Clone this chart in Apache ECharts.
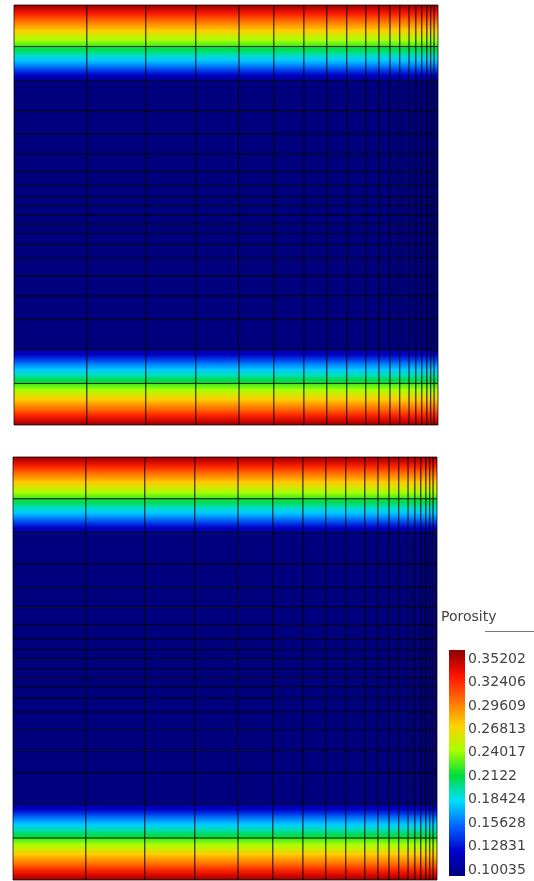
<!DOCTYPE html>
<html>
<head>
<meta charset="utf-8">
<script src="https://cdn.jsdelivr.net/npm/echarts@6/dist/echarts.min.js"></script>
<style>
  html, body { margin: 0; padding: 0; background: #ffffff; }
  #chart { width: 534px; height: 881px; }
</style>
</head>
<body>
<div id="chart"></div>
<script>
// Mesh column edges across the section (% of section width), refined toward the right side
const columnEdges = [0, 17.2, 31.1, 42.9, 53.1, 61.3, 68.4, 73.8, 78.5, 83.0, 86.1,
                     88.7, 91.0, 93.2, 94.8, 96.2, 97.4, 98.3, 99.1, 100];

// Mesh row edges through the layer thickness (% of thickness, 0 = top)
const rowEdges = [0, 9.9, 18.0, 25.3, 30.7, 35.5, 39.7, 43.0, 45.6, 47.8, 50.0,
                  52.2, 54.4, 57.0, 60.3, 64.5, 69.3, 74.7, 82.0, 90.1, 100];

// Porosity profile through the thickness (depth in % of thickness)
const profileDepth = [0, 1.2, 2.4, 3.6, 4.8, 6.0, 7.1, 8.3, 9.5, 10.7, 11.9, 13.1, 14.3, 15.5, 16.7, 17.9, 19.0,
                      81.0, 82.1, 83.3, 84.5, 85.7, 86.9, 88.1, 89.3, 90.5, 91.7, 92.9, 94.0, 95.2, 96.4, 97.6, 98.8, 100];
const profilePorosity = [0.352, 0.335, 0.318, 0.300, 0.285, 0.270, 0.255, 0.240, 0.225, 0.210, 0.195, 0.180, 0.165, 0.145, 0.125, 0.108, 0.1004,
                         0.1004, 0.108, 0.125, 0.145, 0.165, 0.180, 0.195, 0.210, 0.225, 0.240, 0.255, 0.270, 0.285, 0.300, 0.318, 0.335, 0.352];

// Colour legend
const porosityMin = 0.10035;
const porosityMax = 0.35202;
const legendTicks = ['0.10035', '0.12831', '0.15628', '0.18424', '0.2122',
                     '0.24017', '0.26813', '0.29609', '0.32406', '0.35202'];

// Rainbow colour map, low to high
const colormap = ['#00007f', '#0000cc', '#0064ff', '#00e0ff', '#00dc3c',
                  '#a8ff00', '#ffd000', '#ff7000', '#ff1000', '#8c0000'];

function hexToRgb(h) {
  return [parseInt(h.slice(1, 3), 16), parseInt(h.slice(3, 5), 16), parseInt(h.slice(5, 7), 16)];
}
const colormapRgb = colormap.map(hexToRgb);

function colorOf(v) {
  let t = (v - porosityMin) / (porosityMax - porosityMin);
  t = Math.max(0, Math.min(1, t)) * (colormapRgb.length - 1);
  const k = Math.min(Math.floor(t), colormapRgb.length - 2);
  const f = t - k;
  const a = colormapRgb[k], b = colormapRgb[k + 1];
  const c = a.map((x, n) => Math.round(x + (b[n] - x) * f));
  return 'rgb(' + c.join(',') + ')';
}

// Porosity at a depth, interpolated between profile samples (shading within cells)
function porosityAt(d) {
  if (d <= profileDepth[0]) return profilePorosity[0];
  for (let k = 1; k < profileDepth.length; k++) {
    if (d <= profileDepth[k]) {
      const f = (d - profileDepth[k - 1]) / (profileDepth[k] - profileDepth[k - 1]);
      return profilePorosity[k - 1] + (profilePorosity[k] - profilePorosity[k - 1]) * f;
    }
  }
  return profilePorosity[profilePorosity.length - 1];
}

// One item per mesh cell: [column index, row index]
const cells = [];
for (let j = 0; j < rowEdges.length - 1; j++) {
  for (let i = 0; i < columnEdges.length - 1; i++) cells.push([i, j]);
}

function renderCell(params, api) {
  const i = api.value(0), j = api.value(1);
  const d0 = rowEdges[j], d1 = rowEdges[j + 1];
  const p0 = api.coord([columnEdges[i], d0]);
  const p1 = api.coord([columnEdges[i + 1], d1]);
  const stops = [{ offset: 0, color: colorOf(porosityAt(d0)) }];
  profileDepth.forEach((d, k) => {
    if (d > d0 && d < d1) stops.push({ offset: (d - d0) / (d1 - d0), color: colorOf(profilePorosity[k]) });
  });
  stops.push({ offset: 1, color: colorOf(porosityAt(d1)) });
  return {
    type: 'rect',
    shape: { x: p0[0], y: p0[1], width: p1[0] - p0[0], height: p1[1] - p0[1] },
    style: {
      fill: new echarts.graphic.LinearGradient(0, 0, 0, 1, stops),
      stroke: 'rgba(0,0,0,0.72)',
      lineWidth: 1
    }
  };
}

function renderColorbar(params, api) {
  const top = api.coord([0, legendTicks.length - 1 + 0.38]);
  const bottom = api.coord([1, -0.26]);
  const stops = colormap.map((c, k) => ({ offset: 1 - k / (colormap.length - 1), color: c }));
  return {
    type: 'rect',
    shape: { x: top[0], y: top[1], width: bottom[0] - top[0], height: bottom[1] - top[1] },
    style: { fill: new echarts.graphic.LinearGradient(0, 0, 0, 1, stops) }
  };
}

const hiddenX = (idx) => ({ type: 'value', gridIndex: idx, min: 0, max: 100, show: false });
const hiddenY = (idx) => ({ type: 'value', gridIndex: idx, min: 0, max: 100, inverse: true, show: false });

const chart = echarts.init(document.getElementById('chart'), null, { renderer: 'canvas' });
chart.setOption({
  animation: false,
  backgroundColor: '#ffffff',
  title: {
    text: 'Porosity',
    left: 441,
    top: 610,
    padding: 0,
    textStyle: { fontFamily: 'DejaVu Sans', fontSize: 14, fontWeight: 'normal', color: '#444' }
  },
  graphic: [{
    type: 'line',
    shape: { x1: 485, y1: 631.5, x2: 534, y2: 631.5 },
    style: { stroke: '#777', lineWidth: 1 }
  }],
  grid: [
    { left: 14, top: 5, width: 424, height: 420 },
    { left: 13, top: 457, width: 424, height: 423 },
    { left: 449, top: 659, width: 16, height: 211 }
  ],
  xAxis: [hiddenX(0), hiddenX(1), { type: 'value', gridIndex: 2, min: 0, max: 1, show: false }],
  yAxis: [
    hiddenY(0),
    hiddenY(1),
    {
      type: 'value', gridIndex: 2, min: 0, max: legendTicks.length - 1, interval: 1,
      position: 'right',
      axisLine: { show: false },
      splitLine: { show: false },
      axisTick: { show: true, length: 2, lineStyle: { color: '#333' } },
      axisLabel: {
        margin: 3,
        fontFamily: 'DejaVu Sans', fontSize: 14, color: '#444',
        formatter: (v) => legendTicks[Math.round(v)]
      }
    }
  ],
  series: [
    { type: 'custom', xAxisIndex: 0, yAxisIndex: 0, data: cells, renderItem: renderCell },
    { type: 'custom', xAxisIndex: 1, yAxisIndex: 1, data: cells, renderItem: renderCell },
    { type: 'custom', xAxisIndex: 2, yAxisIndex: 2, data: [[0]], renderItem: renderColorbar, clip: false, z: 1 }
  ]
});
</script>
</body>
</html>
